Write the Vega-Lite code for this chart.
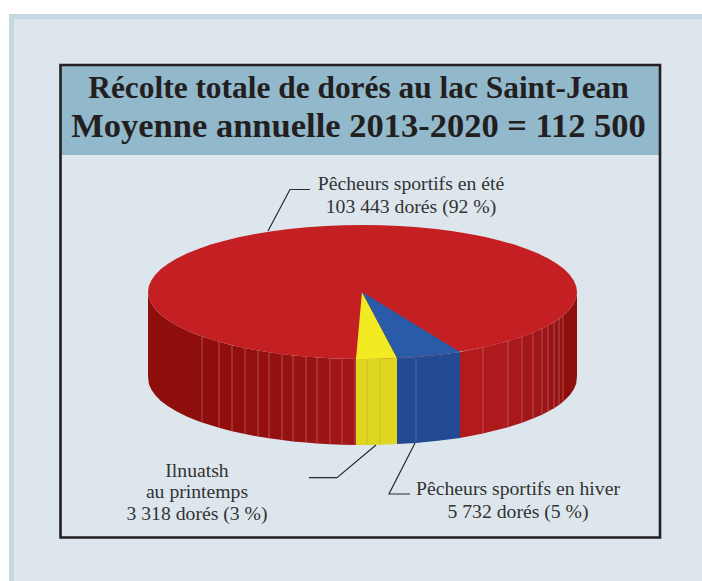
{
"$schema":"https://vega.github.io/schema/vega-lite/v6.json",
"width":702,"height":581,"padding":0,"autosize":{"type":"none"},"background":"#ffffff",
"config":{"view":{"stroke":null}},
"resolve":{"scale":{"fill":"independent","stroke":"independent"}},
"encoding":{
"x":{"field":"x","type":"quantitative","scale":{"domain":[0,702],"nice":false,"zero":false},"axis":null},
"y":{"field":"y","type":"quantitative","scale":{"domain":[581,0],"nice":false,"zero":false},"axis":null}
},
"layer":[
{"data":{"values":[
{"panel":"bande","x":9,"x2":702,"y":14,"y2":581},
{"panel":"fond","x":14,"x2":702,"y":19,"y2":581},
{"panel":"entete","x":60.5,"x2":660,"y":65,"y2":155}
]},
"mark":{"type":"rect"},
"encoding":{"x2":{"field":"x2"},"y2":{"field":"y2"},
"fill":{"field":"panel","type":"nominal","legend":null,"scale":{"domain":["bande","fond","entete"],"range":["#c5d8e2","#dce6ec","#92b8cc"]}}}},
{"data":{"values":[{"x":60.5,"x2":660,"y":65,"y2":537.5}]},
"mark":{"type":"rect","fill":null,"stroke":"#231f20","strokeWidth":2.6},
"encoding":{"x2":{"field":"x2"},"y2":{"field":"y2"}}},
{"data":{"name":"wall","values":[
{"b":"w00","x":148,"y":292,"y2":376},{"b":"w00","x":148.8,"y":297.8,"y2":383.8},{"b":"w00","x":151.3,"y":303.6,"y2":389.6},{"b":"w00","x":155.3,"y":309.3,"y2":395.3},{"b":"w00","x":160.9,"y":314.9,"y2":400.9},{"b":"w00","x":168.1,"y":320.3,"y2":406.3},{"b":"w00","x":176.7,"y":325.5,"y2":411.5},{"b":"w00","x":186.8,"y":330.4,"y2":416.4},{"b":"w00","x":194,"y":333.4,"y2":419.4},{"b":"w00","x":202,"y":336.4,"y2":422.4},
{"b":"w01","x":202,"y":336.4,"y2":422.4},{"b":"w01","x":219,"y":341.8,"y2":427.8},
{"b":"w02","x":219,"y":341.8,"y2":427.8},{"b":"w02","x":232,"y":345.2,"y2":431.2},
{"b":"w03","x":232,"y":345.2,"y2":431.2},{"b":"w03","x":245,"y":348.1,"y2":434.1},
{"b":"w04","x":245,"y":348.1,"y2":434.1},{"b":"w04","x":258,"y":350.5,"y2":436.5},
{"b":"w05","x":258,"y":350.5,"y2":436.5},{"b":"w05","x":269,"y":352.3,"y2":438.3},
{"b":"w06","x":269,"y":352.3,"y2":438.3},{"b":"w06","x":282,"y":354.1,"y2":440.1},
{"b":"w07","x":282,"y":354.1,"y2":440.1},{"b":"w07","x":293,"y":355.4,"y2":441.4},
{"b":"w08","x":293,"y":355.4,"y2":441.4},{"b":"w08","x":306,"y":356.6,"y2":442.6},
{"b":"w09","x":306,"y":356.6,"y2":442.6},{"b":"w09","x":317,"y":357.5,"y2":443.5},
{"b":"w10","x":317,"y":357.5,"y2":443.5},{"b":"w10","x":330,"y":358.2,"y2":444.2},
{"b":"w11","x":330,"y":358.2,"y2":444.2},{"b":"w11","x":342,"y":358.7,"y2":444.7},
{"b":"w12","x":342,"y":358.7,"y2":444.7},{"b":"w12","x":356,"y":359,"y2":445},
{"b":"w13","x":356,"y":359,"y2":445},{"b":"w13","x":367,"y":359,"y2":445},{"b":"w13","x":380,"y":358.8,"y2":444.8},{"b":"w13","x":397,"y":358.1,"y2":444.1},
{"b":"w14","x":397,"y":358.1,"y2":444.1},{"b":"w14","x":416,"y":356.9,"y2":442.9},{"b":"w14","x":438,"y":354.7,"y2":440.7},{"b":"w14","x":460,"y":352,"y2":438},
{"b":"w15","x":460,"y":352,"y2":438},{"b":"w15","x":483,"y":347.4,"y2":433.4},
{"b":"w16","x":483,"y":347.4,"y2":433.4},{"b":"w16","x":508,"y":341.2,"y2":427.2},
{"b":"w17","x":508,"y":341.2,"y2":427.2},{"b":"w17","x":522,"y":336.8,"y2":422.8},
{"b":"w18","x":522,"y":336.8,"y2":422.8},{"b":"w18","x":533,"y":332.6,"y2":418.6},
{"b":"w19","x":533,"y":332.6,"y2":418.6},{"b":"w19","x":542,"y":328.7,"y2":414.7},
{"b":"w20","x":542,"y":328.7,"y2":414.7},{"b":"w20","x":548,"y":325.6,"y2":411.6},
{"b":"w21","x":548,"y":325.6,"y2":411.6},{"b":"w21","x":554,"y":322.2,"y2":408.2},
{"b":"w22","x":554,"y":322.2,"y2":408.2},{"b":"w22","x":559,"y":318.9,"y2":404.9},
{"b":"w23","x":559,"y":318.9,"y2":404.9},{"b":"w23","x":563,"y":315.8,"y2":401.8},
{"b":"w24","x":563,"y":315.8,"y2":401.8},{"b":"w24","x":566,"y":312.9,"y2":398.9},{"b":"w24","x":569.7,"y":309.3,"y2":395.3},{"b":"w24","x":573.7,"y":303.6,"y2":389.6},{"b":"w24","x":576.2,"y":297.8,"y2":383.8},{"b":"w24","x":577,"y":292,"y2":376}
]},
"mark":{"type":"area","interpolate":"linear"},
"encoding":{"y2":{"field":"y2"},
"fill":{"field":"b","type":"nominal","legend":null,"scale":{
"domain":["w00","w01","w02","w03","w04","w05","w06","w07","w08","w09","w10","w11","w12","w13","w14","w15","w16","w17","w18","w19","w20","w21","w22","w23","w24"],
"range":["#8e0e0b","#8f0e0b","#900f0c","#91100d","#92100e","#93100f","#951110","#961211","#981212","#9a1314","#9d1416","#a01518","#a3161a","#dfd621","#244a93","#b31a1d","#ae191c","#a9181b","#a41719","#9f1618","#9b1516","#981414","#951312","#921210","#8f0f0c"]}}}},
{"data":{"values":[
{"k":"r","x":202,"y":336.4,"y2":422.4},{"k":"r","x":219,"y":341.8,"y2":427.8},{"k":"r","x":232,"y":345.2,"y2":431.2},{"k":"r","x":245,"y":348.1,"y2":434.1},{"k":"r","x":258,"y":350.5,"y2":436.5},{"k":"r","x":269,"y":352.3,"y2":438.3},{"k":"r","x":282,"y":354.1,"y2":440.1},{"k":"r","x":293,"y":355.4,"y2":441.4},{"k":"r","x":306,"y":356.6,"y2":442.6},{"k":"r","x":317,"y":357.5,"y2":443.5},{"k":"r","x":330,"y":358.2,"y2":444.2},{"k":"r","x":342,"y":358.7,"y2":444.7},{"k":"r","x":355,"y":359,"y2":445},
{"k":"j","x":367,"y":359,"y2":445},{"k":"j","x":380,"y":358.8,"y2":444.8},
{"k":"b","x":416,"y":356.9,"y2":442.9},
{"k":"r","x":483,"y":347.4,"y2":433.4},{"k":"r","x":508,"y":341.2,"y2":427.2},{"k":"r","x":522,"y":336.8,"y2":422.8},{"k":"r","x":533,"y":332.6,"y2":418.6},{"k":"r","x":542,"y":328.7,"y2":414.7},{"k":"r","x":548,"y":325.6,"y2":411.6},{"k":"r","x":554,"y":322.2,"y2":408.2},{"k":"r","x":559,"y":318.9,"y2":404.9},{"k":"r","x":563,"y":315.8,"y2":401.8}
]},
"mark":{"type":"rule","strokeWidth":0.7},
"encoding":{"y2":{"field":"y2"},
"stroke":{"field":"k","type":"nominal","legend":null,"scale":{"domain":["r","j","b"],"range":["#c4686c","#bdb52e","#5571ad"]}}}},
{"data":{"values":[
{"x":148,"y":292,"y2":292},{"x":148.8,"y":286.2,"y2":297.8},{"x":151.3,"y":280.4,"y2":303.6},{"x":155.3,"y":274.7,"y2":309.3},{"x":160.9,"y":269.1,"y2":314.9},{"x":168.1,"y":263.7,"y2":320.3},{"x":176.7,"y":258.5,"y2":325.5},{"x":186.8,"y":253.6,"y2":330.4},{"x":198.2,"y":248.9,"y2":335.1},{"x":210.8,"y":244.6,"y2":339.4},{"x":224.6,"y":240.7,"y2":343.3},{"x":239.5,"y":237.1,"y2":346.9},{"x":255.2,"y":234,"y2":350},{"x":271.9,"y":231.3,"y2":352.7},{"x":289.1,"y":229,"y2":355},{"x":307,"y":227.3,"y2":356.7},{"x":325.3,"y":226,"y2":358},{"x":343.8,"y":225.3,"y2":358.7},{"x":362.5,"y":225,"y2":359},
{"x":381.2,"y":225.3,"y2":358.7},{"x":399.7,"y":226,"y2":358},{"x":418,"y":227.3,"y2":356.7},{"x":435.9,"y":229,"y2":355},{"x":453.1,"y":231.3,"y2":352.7},{"x":469.8,"y":234,"y2":350},{"x":485.5,"y":237.1,"y2":346.9},{"x":500.4,"y":240.7,"y2":343.3},{"x":514.2,"y":244.6,"y2":339.4},{"x":526.8,"y":248.9,"y2":335.1},{"x":538.2,"y":253.6,"y2":330.4},{"x":548.3,"y":258.5,"y2":325.5},{"x":556.9,"y":263.7,"y2":320.3},{"x":564.1,"y":269.1,"y2":314.9},{"x":569.7,"y":274.7,"y2":309.3},{"x":573.7,"y":280.4,"y2":303.6},{"x":576.2,"y":286.2,"y2":297.8},{"x":577,"y":292,"y2":292}
]},
"mark":{"type":"area","interpolate":"linear","color":"#c41f22"},
"encoding":{"y2":{"field":"y2"}}},
{"data":{"values":[
{"s":"Ilnuatsh","i":1,"x":362,"y":292},{"s":"Ilnuatsh","i":2,"x":356,"y":359},{"s":"Ilnuatsh","i":3,"x":367,"y":359},{"s":"Ilnuatsh","i":4,"x":380,"y":358.8},{"s":"Ilnuatsh","i":5,"x":397,"y":358.1},
{"s":"Hiver","i":1,"x":362,"y":292},{"s":"Hiver","i":2,"x":397,"y":358.1},{"s":"Hiver","i":3,"x":416,"y":356.9},{"s":"Hiver","i":4,"x":438,"y":354.7},{"s":"Hiver","i":5,"x":460,"y":352}
]},
"mark":{"type":"line","interpolate":"linear","strokeWidth":0},
"encoding":{"order":{"field":"i","type":"quantitative"},
"detail":{"field":"s"},
"fill":{"field":"s","type":"nominal","legend":null,"scale":{"domain":["Ilnuatsh","Hiver"],"range":["#f2ea23","#2a5ba8"]}}}},
{"data":{"values":[
{"l":"ete","i":1,"x":310,"y":189.5},{"l":"ete","i":2,"x":290,"y":189.5},{"l":"ete","i":3,"x":268,"y":231},
{"l":"ilnu","i":1,"x":309,"y":477.7},{"l":"ilnu","i":2,"x":337,"y":477.7},{"l":"ilnu","i":3,"x":376,"y":445},
{"l":"hiver","i":1,"x":410,"y":494},{"l":"hiver","i":2,"x":389,"y":494},{"l":"hiver","i":3,"x":415,"y":443}
]},
"mark":{"type":"line","interpolate":"linear","color":"#2b2b2b","strokeWidth":1.2},
"encoding":{"order":{"field":"i","type":"quantitative"},"detail":{"field":"l"}}},
{"data":{"values":[
{"t":"Récolte totale de dorés au lac Saint-Jean","x":358.5,"y":98}
]},
"mark":{"type":"text","font":"Liberation Serif","fontWeight":"bold","fontSize":31.4,"align":"center","baseline":"alphabetic","color":"#231f20"},
"encoding":{"text":{"field":"t"}}},
{"data":{"values":[
{"t":"Moyenne annuelle 2013-2020 = 112 500","x":358.5,"y":137}
]},
"mark":{"type":"text","font":"Liberation Serif","fontWeight":"bold","fontSize":34.5,"align":"center","baseline":"alphabetic","color":"#231f20"},
"encoding":{"text":{"field":"t"}}},
{"data":{"values":[
{"t":"Pêcheurs sportifs en été","x":411,"y":190},
{"t":"103 443 dorés (92 %)","x":411,"y":213},
{"t":"Ilnuatsh","x":197,"y":477},
{"t":"au printemps","x":197,"y":498},
{"t":"3 318 dorés (3 %)","x":197,"y":520},
{"t":"Pêcheurs sportifs en hiver","x":518,"y":495},
{"t":"5 732 dorés (5 %)","x":518,"y":518}
]},
"mark":{"type":"text","font":"Liberation Serif","fontSize":19.7,"align":"center","baseline":"alphabetic","color":"#333333"},
"encoding":{"text":{"field":"t"}}}
]
}
